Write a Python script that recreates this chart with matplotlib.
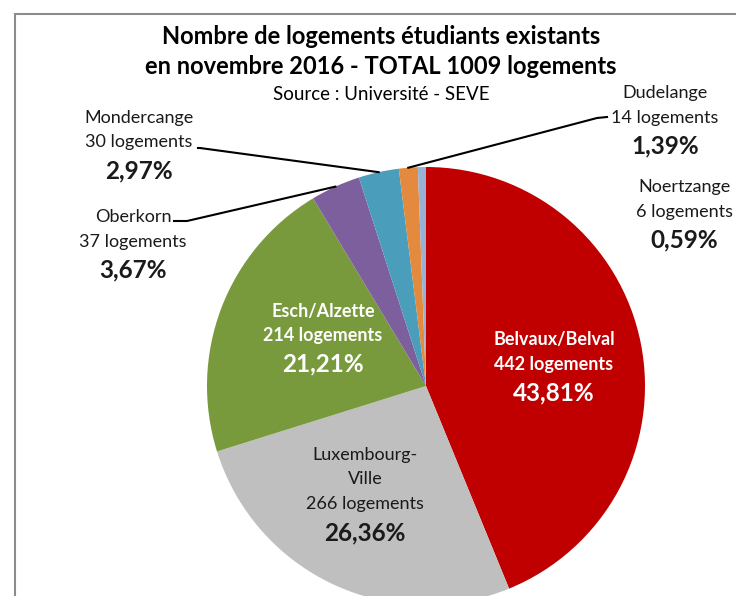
import numpy as np
import matplotlib
matplotlib.use("Agg")
import matplotlib.pyplot as plt
from matplotlib.patches import Rectangle

plt.rcParams['font.family'] = ['Lato', 'DejaVu Sans']

# data
communes = ['Belvaux/Belval', 'Luxembourg-\nVille', 'Esch/Alzette', 'Oberkorn',
            'Mondercange', 'Dudelange', 'Noertzange']
logements = [442, 266, 214, 37, 30, 14, 6]
colors = ['#C00000', '#BFBFBF', '#789A3C', '#7D5F9E', '#4A9EBB', '#E38A3E', '#98B2D6']

total = sum(logements)
pcts = [v / total * 100 for v in logements]
pct_txt = ['{:.2f}%'.format(p).replace('.', ',') for p in pcts]

W, H = 736, 596
fig = plt.figure(figsize=(W / 100, H / 100), dpi=100)
ax = fig.add_axes([0, 0, 1, 1])

def Y(y):
    return H - y

cx, cy, R = 426, Y(386), 219
wedges, _ = ax.pie(logements, colors=colors, startangle=90, counterclock=False,
                   center=(cx, cy), radius=R, frame=True,
                   wedgeprops=dict(linewidth=0))
ax.set_xlim(0, W)
ax.set_ylim(0, H)
ax.set_aspect('equal')
ax.axis('off')

# frame of the chart area (extends past the image)
ax.add_patch(Rectangle((15, Y(900)), 900, 900 - 14, fill=False, ec='#8C8C8C', lw=1.5))

# title
ax.text(381, Y(36), 'Nombre de logements étudiants existants', ha='center', va='center',
        fontsize=17, fontweight='bold', color='black')
ax.text(381, Y(67), 'en novembre 2016 - TOTAL 1009 logements', ha='center', va='center',
        fontsize=17, fontweight='bold', color='black')
ax.text(381, Y(95), 'Source : Université - SEVE', ha='center', va='center',
        fontsize=13.5, color='black')

# labels: (x, y of first line, color, bold names)
lab_pos = [(554, 340, 'white', True),
           (365, 455, '#1a1a1a', False),
           (323, 311, 'white', True),
           (133, 217, '#1a1a1a', False),
           (139, 118, '#1a1a1a', False),
           (665, 93, '#1a1a1a', False),
           (684, 187, '#1a1a1a', False)]

for i, (x, y, c, b) in enumerate(lab_pos):
    lines = communes[i].split('\n') + ['{} logements'.format(logements[i])]
    for j, ln in enumerate(lines):
        ax.text(x, Y(y + 24.5 * j), ln, ha='center', va='center', fontsize=13,
                color=c, fontweight='bold' if b else 'normal')
    ax.text(x, Y(y + 24.5 * len(lines) + 4), pct_txt[i], ha='center', va='center',
            fontsize=17.5, color=c, fontweight='bold')

def edge_point(w):
    a = np.deg2rad((w.theta1 + w.theta2) / 2)
    return cx + R * np.cos(a), cy + R * np.sin(a)

# leader lines
leaders = {3: [(174, 221), (187, 221)],
           4: [(198, 148), (200, 148)],
           5: [(607, 117), (597, 118)]}
for i, pts in leaders.items():
    ex, ey = edge_point(wedges[i])
    xs = [p[0] for p in pts] + [ex]
    ys = [Y(p[1]) for p in pts] + [ey]
    ax.plot(xs, ys, color='black', lw=1.5)

fig.savefig('out.png', dpi=100)
